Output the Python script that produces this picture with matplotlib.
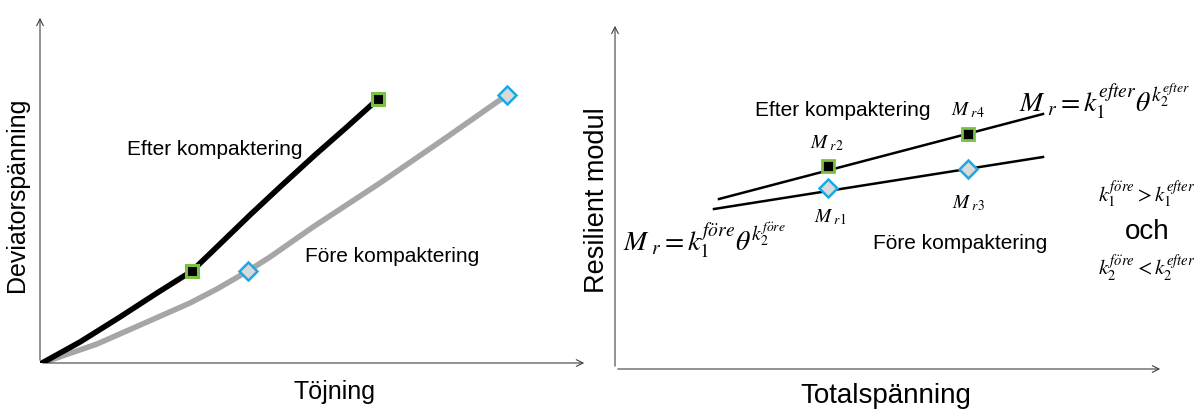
import matplotlib
matplotlib.use("Agg")
import matplotlib.pyplot as plt

plt.rcParams['mathtext.fontset'] = 'stix'
plt.rcParams['font.family'] = ['Liberation Sans', 'DejaVu Sans']

W, H = 1201, 412

# ---- data (arbitrary units) ----
# Left panel: stress-strain curves
efter_strain = [2, 40, 80, 117, 152, 180, 210, 240, 275, 308, 338]
efter_stress = [0, 21, 46, 70, 92, 119, 148, 176, 208, 237, 264]
fore_strain = [2, 57, 107, 150, 177, 208, 230, 273, 340, 407, 467]
fore_stress = [0, 19, 41, 60, 74, 92, 106, 136, 180, 226, 268]
efter_mark_x = [152, 338]
efter_mark_y = [92, 264]
fore_mark_x = [208, 467]
fore_mark_y = [92, 268]

# Right panel: resilient modulus vs total stress
efter_line_x = [104, 428]
efter_line_y = [170, 255]
fore_line_x = [99, 428]
fore_line_y = [160, 212]
efter_pts_x = [213, 353]
efter_pts_y = [203, 235]
fore_pts_x = [213, 353]
fore_pts_y = [181, 200]

fig = plt.figure(figsize=(W / 100, H / 100), dpi=100)


def add_axes_px(x0, y_bottom, x1, y_top):
    # pixel rectangle -> figure fraction
    return fig.add_axes([x0 / W, 1 - y_bottom / H, (x1 - x0) / W, (y_bottom - y_top) / H])


axis_col = '#404040'
arrow_kw = dict(arrowstyle='->', color=axis_col, lw=0.8, mutation_scale=12)

# ---------------- Left panel ----------------
axL = add_axes_px(40, 363, 590, 15)
axL.set_xlim(0, 550)
axL.set_ylim(0, 348)
axL.axis('off')
axL.annotate('', xy=(0, 348), xytext=(0, 0), arrowprops=arrow_kw, annotation_clip=False)
axL.annotate('', xy=(547, 0), xytext=(0, 0), arrowprops=arrow_kw, annotation_clip=False)

axL.plot(fore_strain, fore_stress, color='#A6A6A6', lw=4.0, solid_capstyle='round',
         solid_joinstyle='round', zorder=2)
axL.plot(efter_strain, efter_stress, color='black', lw=4.0, solid_capstyle='round',
         solid_joinstyle='round', zorder=3)
axL.plot(efter_mark_x, efter_mark_y, ls='none', marker='s', ms=9, mfc='black',
         mec='#7AC143', mew=2.2, zorder=4)
axL.plot(fore_mark_x, fore_mark_y, ls='none', marker='D', ms=9, mfc='#D9D9D9',
         mec='#1BA9E6', mew=1.8, zorder=4)

lab = 15
axL.text(87, 214, 'Efter kompaktering', fontsize=lab, ha='left', va='center')
axL.text(265, 107, 'Före kompaktering', fontsize=lab, ha='left', va='center')
axL.text(295, -29, 'Töjning', fontsize=18, ha='center', va='center')
axL.text(-23, 168, 'Deviatorspänning', fontsize=18, ha='center', va='center', rotation=90)

# ---------------- Right panel ----------------
axR = add_axes_px(615, 369, 1162, 23)
axR.set_xlim(0, 547)
axR.set_ylim(0, 346)
axR.axis('off')
axR.annotate('', xy=(0, 346), xytext=(0, 0), arrowprops=arrow_kw, annotation_clip=False)
axR.annotate('', xy=(548, 0), xytext=(0, 0), arrowprops=arrow_kw, annotation_clip=False)

axR.plot(efter_line_x, efter_line_y, color='black', lw=1.8, zorder=2)
axR.plot(fore_line_x, fore_line_y, color='black', lw=1.8, zorder=2)
axR.plot(efter_pts_x, efter_pts_y, ls='none', marker='s', ms=8, mfc='black',
         mec='#7AC143', mew=2.0, zorder=4)
axR.plot(fore_pts_x, fore_pts_y, ls='none', marker='D', ms=9, mfc='#D9D9D9',
         mec='#1BA9E6', mew=1.8, zorder=3)

axR.text(228, 259, 'Efter kompaktering', fontsize=lab, ha='center', va='center')
axR.text(345, 126, 'Före kompaktering', fontsize=lab, ha='center', va='center')

mfs = 14
axR.text(212, 226, r'$M_{\ r2}$', fontsize=mfs, ha='center', va='center')
axR.text(353, 259, r'$M_{\ r4}$', fontsize=mfs, ha='center', va='center')
axR.text(215, 152, r'$M_{\ r1}$', fontsize=mfs, ha='center', va='center')
axR.text(353, 166, r'$M_{\ r3}$', fontsize=mfs, ha='center', va='center')

axR.text(404, 267, r'$M_{\ r} = k_1^{efter}\theta^{k_2^{efter}}$', fontsize=20,
         ha='left', va='center')
axR.text(8, 129, r'$M_{\ r} = k_1^{f\ddot{o}re}\theta^{k_2^{f\ddot{o}re}}$', fontsize=20,
         ha='left', va='center')
axR.text(532, 174, r'$k_1^{f\ddot{o}re} > k_1^{efter}$', fontsize=15, ha='center', va='center')
axR.text(532, 137, 'och', fontsize=20, ha='center', va='center')
axR.text(532, 101, r'$k_2^{f\ddot{o}re} < k_2^{efter}$', fontsize=15, ha='center', va='center')
axR.text(271, -27, 'Totalspänning', fontsize=20, ha='center', va='center')
axR.text(-18, 169, 'Resilient modul', fontsize=19.5, ha='center', va='center', rotation=90)

fig.savefig('out.png', dpi=100)
